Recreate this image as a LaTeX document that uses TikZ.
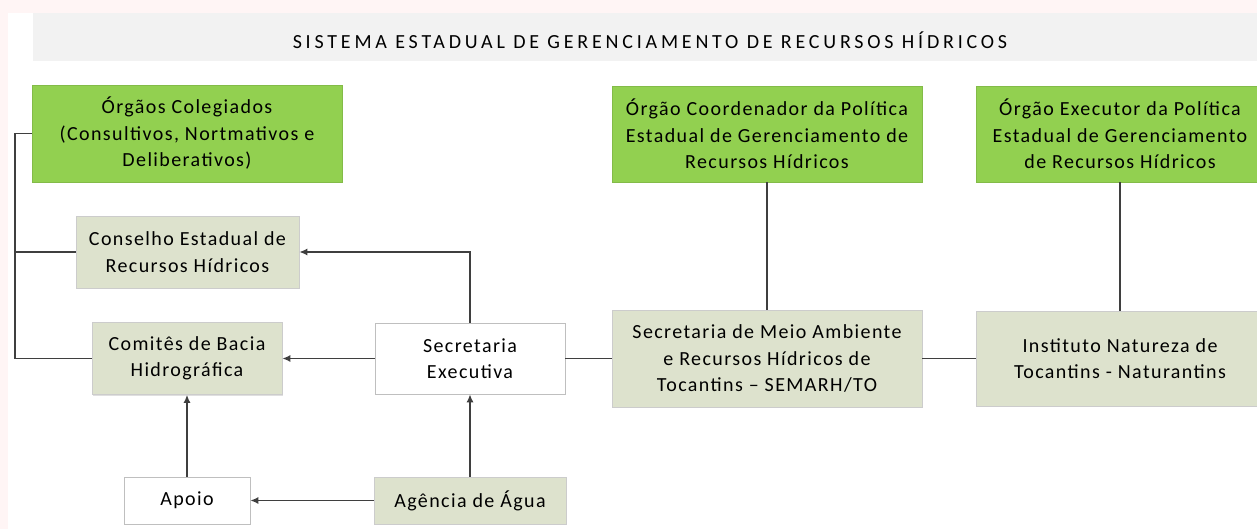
\documentclass[tikz,border=0pt]{standalone}
\usepackage{fontspec}
\setmainfont{Carlito}[LetterSpace=7]
\newfontfamily\titlefont{Carlito}[LetterSpace=19]
\usetikzlibrary{arrows.meta,shadows}
\definecolor{pinkbg}{HTML}{FFF5F5}
\definecolor{titlegray}{HTML}{F2F2F2}
\definecolor{leafgreen}{HTML}{92D050}
\definecolor{sagegray}{HTML}{DDE2CD}
\definecolor{linkgray}{HTML}{3F3F3F}
\begin{document}
\begin{tikzpicture}[x=1pt, y=-1pt,
  font=\fontsize{20}{26.5}\selectfont,
  box/.style={rectangle, align=center, inner sep=0pt, draw=black!20, line width=0.6pt,
    drop shadow={opacity=0.25, shadow xshift=1.2pt, shadow yshift=-1.2pt}},
  greenbox/.style={box, fill=leafgreen, draw=leafgreen!90!black},
  sagebox/.style={box, fill=sagegray},
  whitebox/.style={box, fill=white, draw=black!25},
  link/.style={draw=linkgray, line width=1.6pt},
  arrowlink/.style={link, -{Latex[length=8pt,width=7pt]}}]
\useasboundingbox (0,0) rectangle (1257,529);
\fill[pinkbg] (0,0) rectangle (1257,529);
\fill[white] (8,13) rectangle (1257,529);
\begin{scope}
\clip (0,0) rectangle (1257,529);
% title band
\node[fill=titlegray, minimum width=1224pt, minimum height=48pt, inner sep=0pt] (band) at (645,37) {};
\node[font=\titlefont\fontsize{20}{24}\selectfont] (title) at (650,40) {SISTEMA ESTADUAL DE GERENCIAMENTO DE RECURSOS HÍDRICOS};
% left column
\node[greenbox, minimum width=310pt, minimum height=97pt] (colegiados) at (187,133.5) {Órgãos Colegiados\\(Consultivos, Nortmativos e\\Deliberativos)};
\node[sagebox, minimum width=223pt, minimum height=72pt] (conselho) at (187.5,252) {Conselho Estadual de\\Recursos Hídricos};
\node[sagebox, minimum width=190pt, minimum height=72pt] (comites) at (187,358.5) {Comitês de Bacia\\Hidrográfica};
\node[whitebox, minimum width=126pt, minimum height=47pt] (apoio) at (187,500.5) {Apoio};
% middle column
\node[whitebox, minimum width=190pt, minimum height=71pt] (secexec) at (470,358.5) {Secretaria\\Executiva};
\node[sagebox, minimum width=192pt, minimum height=47pt] (agencia) at (470,500.5) {Agência de Água};
% right columns
\node[greenbox, minimum width=310pt, minimum height=96pt] (coordenador) at (767,134) {Órgão Coordenador da Política\\Estadual de Gerenciamento de\\Recursos Hídricos};
\node[sagebox, minimum width=310pt, minimum height=97pt] (semarh) at (767,358.5) {Secretaria de Meio Ambiente\\e Recursos Hídricos de\\Tocantins -- SEMARH/TO};
\node[greenbox, minimum width=288pt, minimum height=96pt] (executor) at (1120,134) {Órgão Executor da Política\\Estadual de Gerenciamento\\de Recursos Hídricos};
\node[sagebox, minimum width=288pt, minimum height=95pt] (instituto) at (1120,358.5) {Instituto Natureza de\\Tocantins - Naturantins};
\coordinate (bracket) at (15,252);
% connectors
\path[link] (colegiados.west) -| (bracket) |- (comites.west);
\path[link] (bracket) -- (conselho.west);
\path[arrowlink] (secexec.north) |- (conselho.east);
\path[arrowlink] (secexec.west) -- (comites.east);
\path[arrowlink] (apoio.north) -- (comites.south);
\path[arrowlink] (agencia.west) -- (apoio.east);
\path[arrowlink] (agencia.north) -- (secexec.south);
\path[link] (secexec.east) -- (semarh.west);
\path[link] (semarh.east) -- (instituto.west);
\path[link] (coordenador.south) -- (semarh.north);
\path[link] (executor.south) -- (instituto.north);
\end{scope}
\end{tikzpicture}
\end{document}
